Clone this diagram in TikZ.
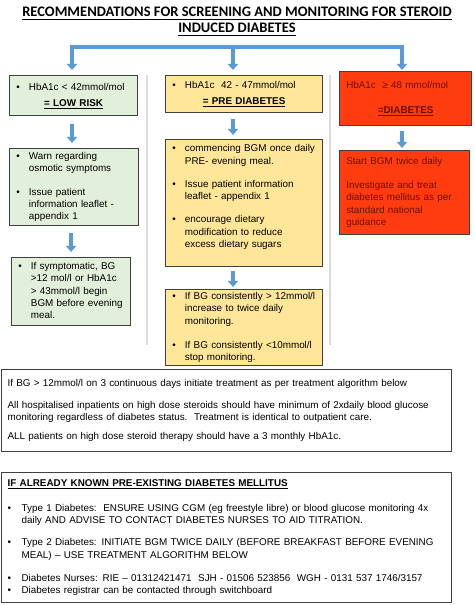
\documentclass[tikz,border=0pt]{standalone}
\usepackage{fontspec}
\setmainfont{Liberation Sans}
\newfontfamily\titlefont{Carlito}
\usetikzlibrary{arrows.meta}

\definecolor{lowfill}{HTML}{E2EFDA}
\definecolor{prefill}{HTML}{FFE699}
\definecolor{diabfill}{HTML}{FF3C10}
\definecolor{diabtext}{HTML}{6B1000}
\definecolor{boxline}{HTML}{404040}
\definecolor{flowblue}{HTML}{5B9BD5}
\definecolor{sepgray}{HTML}{D6DCE4}

\newcommand{\boxfont}{\fontsize{7.4}{9.2}\selectfont}

\tikzset{
  box/.style={draw=boxline, line width=0.9pt, anchor=north west, inner xsep=5pt, inner ysep=0pt, align=left, font=\boxfont},
  lowbox/.style={box, fill=lowfill},
  prebox/.style={box, fill=prefill},
  diabbox/.style={box, fill=diabfill, text=diabtext},
  notebox/.style={box, fill=white, inner xsep=4.5pt},
  flow/.style={draw=flowblue, line width=2.5pt, -{Triangle[width=7.5pt,length=4.5pt]}},
  sepline/.style={draw=sepgray, line width=1pt}
}

\begin{document}
\begin{tikzpicture}[x=0.75pt,y=0.75pt,yscale=-1]
    \useasboundingbox[fill=white] (0,0) rectangle (474,605);

    % Title
    \node[font=\titlefont\bfseries\fontsize{10.9}{12}\selectfont, align=center] (title) at (237,21.5)
      {\underline{RECOMMENDATIONS FOR SCREENING AND MONITORING FOR STEROID}\\ \underline{INDUCED DIABETES}};

    % Column separators
    \draw[sepline] (147,75) -- (147,345);
    \draw[sepline] (330,75) -- (330,345);

    % Low risk column
    \node[lowbox, text width=86pt, minimum height=30pt] (lowrisk) at (9,75) {%
      \begin{tabular}{@{}p{9.5pt}@{}l@{}}
      \textbullet & HbA1c < 42mmol/mol\\[2.8pt]
      \multicolumn{2}{@{}c@{}}{\makebox[86pt]{\textbf{\underline{= LOW RISK}}}}
      \end{tabular}};
    \node[lowbox, text width=86.75pt, minimum height=57.75pt] (lowact) at (9,148) {%
      \begin{tabular}{@{}p{9.5pt}@{}l@{}}
      \textbullet & Warn regarding\\
       & osmotic symptoms\\[8.8pt]
      \textbullet & Issue patient\\
       & information leaflet -\\
       & appendix 1
      \end{tabular}};
    \node[lowbox, text width=79.25pt, minimum height=51pt] (lowfollow) at (11,257) {%
      \begin{tabular}{@{}p{9.5pt}@{}l@{}}
      \textbullet & If symptomatic, BG\\
       & >12 mol/l or HbA1c\\
       & > 43mmol/l begin\\
       & BGM before evening\\
       & meal.
      \end{tabular}};

    % Pre diabetes column
    \node[prebox, text width=107.75pt, minimum height=27.75pt] (prediab) at (165,75) {%
      \begin{tabular}{@{}p{9.5pt}@{}l@{}}
      \textbullet & HbA1c\ \ 42 - 47mmol/mol\\[2.8pt]
      \multicolumn{2}{@{}c@{}}{\makebox[107.75pt]{\textbf{\underline{= PRE DIABETES}}}}
      \end{tabular}};
    \node[prebox, text width=107.75pt, minimum height=95.25pt] (preact) at (165,139) {%
      \begin{tabular}{@{}p{9.5pt}@{}l@{}}
      \textbullet & commencing BGM once daily\\
       & PRE- evening meal.\\[8.2pt]
      \textbullet & Issue patient information\\
       & leaflet - appendix 1\\[8.2pt]
      \textbullet & encourage dietary\\
       & modification to reduce\\
       & excess dietary sugars\\[9pt]
      \end{tabular}};
    \node[prebox, text width=107.75pt, minimum height=57pt] (prefollow) at (165,289) {%
      \begin{tabular}{@{}p{9.5pt}@{}l@{}}
      \textbullet & If BG consistently > 12mmol/l\\
       & increase to twice daily\\
       & monitoring.\\[8.8pt]
      \textbullet & If BG consistently <10mmol/l\\
       & stop monitoring.
      \end{tabular}};

    % Diabetes column
    \node[diabbox, text width=89pt, minimum height=40.5pt] (diab) at (339,71) {%
      \begin{tabular}{@{}l@{}}
      HbA1c\ \ ≥ 48 mmol/mol\\[9.5pt]
      \makebox[89pt]{\textbf{\underline{=DIABETES}}}
      \end{tabular}};
    \node[diabbox, text width=87.5pt, minimum height=63pt] (diabact) at (339,150) {%
      \begin{tabular}{@{}l@{}}
      Start BGM twice daily\\[8.8pt]
      Investigate and treat\\
      diabetes mellitus as per\\
      standard national\\
      guidance
      \end{tabular}};

    % Notes
    \node[notebox, text width=328.5pt, minimum height=61.5pt] (general) at (1,369) {%
      \begin{tabular}{@{}l@{}}
      If BG > 12mmol/l on 3 continuous days initiate treatment as per treatment algorithm below\\[7.3pt]
      All hospitalised inpatients on high dose steroids should have minimum of 2xdaily blood glucose\\
      monitoring regardless of diabetes status.\ \ Treatment is identical to outpatient care.\\[5pt]
      ALL patients on high dose steroid therapy should have a 3 monthly HbA1c.
      \end{tabular}};
    \node[notebox, text width=328.5pt, minimum height=97.5pt] (known) at (1,472) {%
      \begin{tabular}{@{}p{10.5pt}@{}l@{}}
      \multicolumn{2}{@{}l@{}}{\textbf{\underline{IF ALREADY KNOWN PRE-EXISTING DIABETES MELLITUS}}}\\[9.5pt]
      \textbullet & Type 1 Diabetes:\ \ ENSURE USING CGM (eg freestyle libre) or blood glucose monitoring 4x\\
       & daily AND ADVISE TO CONTACT DIABETES NURSES TO AID TITRATION.\\[7.3pt]
      \textbullet & Type 2 Diabetes: INITIATE BGM TWICE DAILY (BEFORE BREAKFAST BEFORE EVENING\\
       & MEAL) -- USE TREATMENT ALGORITHM BELOW\\[8pt]
      \textbullet & Diabetes Nurses: RIE -- 01312421471\ \ SJH - 01506 523856\ \ WGH - 0131 537 1746/3157\\
      \textbullet & Diabetes registrar can be contacted through switchboard
      \end{tabular}};

    % Connectors
    \coordinate (barL) at (72,47);
    \coordinate (split) at (233,47);
    \coordinate (barR) at (402,47);
    \draw[flow, shorten >=3.75pt] (split) -| (barL |- lowrisk.north);
    \draw[flow, shorten >=3.75pt] (split) -- (split |- prediab.north);
    \draw[flow, shorten >=0.75pt] (split) -| (barR |- diab.north);

    \draw[flow, shorten <=6pt, shorten >=3.75pt] (barL |- lowrisk.south) -- (barL |- lowact.north);
    \draw[flow, shorten <=5.25pt, shorten >=3.75pt] (lowfollow.north |- lowact.south) -- (lowfollow.north);
    \draw[flow, shorten <=4.5pt, shorten >=3pt] (split |- prediab.south) -- (split |- preact.north);
    \draw[flow, shorten <=3pt, shorten >=1.5pt] (split |- preact.south) -- (split |- prefollow.north);
    \draw[flow, shorten <=3.75pt, shorten >=1.5pt] (barR |- diab.south) -- (barR |- diabact.north);

\end{tikzpicture}
\end{document}
